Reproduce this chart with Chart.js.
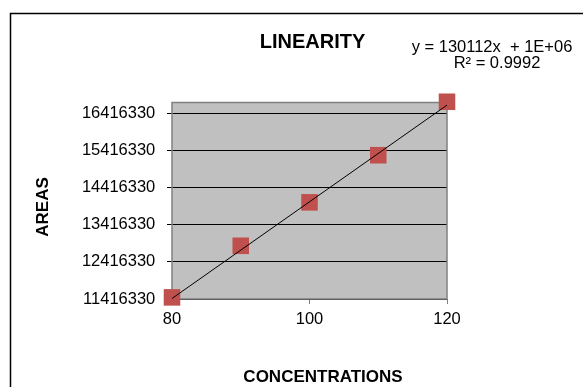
<!DOCTYPE html>
<html><head><meta charset="utf-8">
<script src="https://cdn.jsdelivr.net/npm/chart.js@4"></script>
<style>html,body{margin:0;padding:0;background:#fff}#wrap{width:583px;height:387px}</style>
</head><body><div id="wrap"><canvas id="c" width="583" height="387"></canvas></div>
<script>
const concentrations = [80, 90, 100, 110, 120];
const areas = [11460000, 12850000, 14020000, 15290000, 16730000];
const trendX = [80, 120];
const trendY = [11430000, 16640000];
const yTickValues = [11416330, 12416330, 13416330, 14416330, 15416330, 16416330];
const xTickValues = [80, 100, 120];
const chartTitle = 'LINEARITY';
const xAxisTitle = 'CONCENTRATIONS';
const yAxisTitle = 'AREAS';
const equationText = 'y = 130112x  + 1E+06';
const rSquaredText = 'R\u00B2 = 0.9992';
const FONT = '"Liberation Sans", Arial, sans-serif';

const decor = {
  id: 'decor',
  beforeDraw(chart) {
    const {ctx, chartArea: a} = chart;
    ctx.save();
    ctx.fillStyle = '#c0c0c0';
    ctx.fillRect(a.left, a.top, a.right - a.left, a.bottom - a.top);
    ctx.strokeStyle = '#000';
    ctx.lineWidth = 1.5;
    ctx.beginPath();
    ctx.moveTo(10.5, 387);
    ctx.lineTo(10.5, 13.5);
    ctx.lineTo(583, 13.5);
    ctx.stroke();
    ctx.restore();
  },
  beforeDatasetsDraw(chart) {
    const {ctx, chartArea: a} = chart;
    ctx.save();
    ctx.strokeStyle = '#808080';
    ctx.lineWidth = 1.5;
    ctx.strokeRect(a.left, a.top, a.right - a.left, a.bottom - a.top);
    ctx.restore();
  },
  afterDraw(chart) {
    const {ctx} = chart;
    ctx.save();
    ctx.fillStyle = '#000';
    ctx.textBaseline = 'alphabetic';
    ctx.textAlign = 'center';
    ctx.font = 'bold 20px ' + FONT;
    ctx.fillText(chartTitle, 312.5, 48.3);
    ctx.font = '16.5px ' + FONT;
    ctx.fillText(equationText, 492, 51.5);
    ctx.fillText(rSquaredText, 497, 68);
    ctx.font = 'bold 17px ' + FONT;
    ctx.fillText(xAxisTitle, 323, 382.3);
    ctx.translate(48.3, 207);
    ctx.rotate(-Math.PI / 2);
    ctx.fillText(yAxisTitle, 0, 0);
    ctx.restore();
  }
};

new Chart(document.getElementById('c'), {
  type: 'scatter',
  data: {
    datasets: [
      {
        type: 'line',
        label: 'Linear',
        data: trendX.map((x, i) => ({x: x, y: trendY[i]})),
        borderColor: '#000',
        borderWidth: 1,
        pointRadius: 0,
        fill: false,
        tension: 0
      },
      {
        label: 'Areas',
        data: concentrations.map((x, i) => ({x: x, y: areas[i]})),
        pointStyle: 'rect',
        pointRadius: 11.7,
        pointHoverRadius: 11.7,
        backgroundColor: '#c0504d',
        borderColor: '#c0504d',
        borderWidth: 0,
        clip: false
      }
    ]
  },
  options: {
    responsive: false,
    animation: false,
    devicePixelRatio: 1,
    layout: {padding: {top: 102.5, right: 136, left: 0, bottom: 0}},
    plugins: {legend: {display: false}, tooltip: {enabled: false}, title: {display: false}},
    scales: {
      x: {
        type: 'linear', min: 80, max: 120,
        afterBuildTicks: s => { s.ticks = xTickValues.map(v => ({value: v})); },
        afterFit: s => { s.height = 88; },
        grid: {drawOnChartArea: false, drawTicks: true, tickLength: 5, color: '#808080'},
        border: {display: false},
        ticks: {padding: 5.5, color: '#000', font: {family: FONT, size: 16.5}, maxRotation: 0, autoSkip: false, callback: v => String(v)}
      },
      y: {
        type: 'linear', min: 11416330, max: 16710000,
        afterBuildTicks: s => { s.ticks = yTickValues.map(v => ({value: v})); },
        afterFit: s => { s.width = 172; },
        grid: {color: '#000', tickLength: 5, lineWidth: 1},
        border: {display: false},
        ticks: {padding: 11.7, color: '#000', font: {family: FONT, size: 16.5}, autoSkip: false, callback: v => String(v)}
      }
    }
  },
  plugins: [decor]
});
</script>
</body></html>
